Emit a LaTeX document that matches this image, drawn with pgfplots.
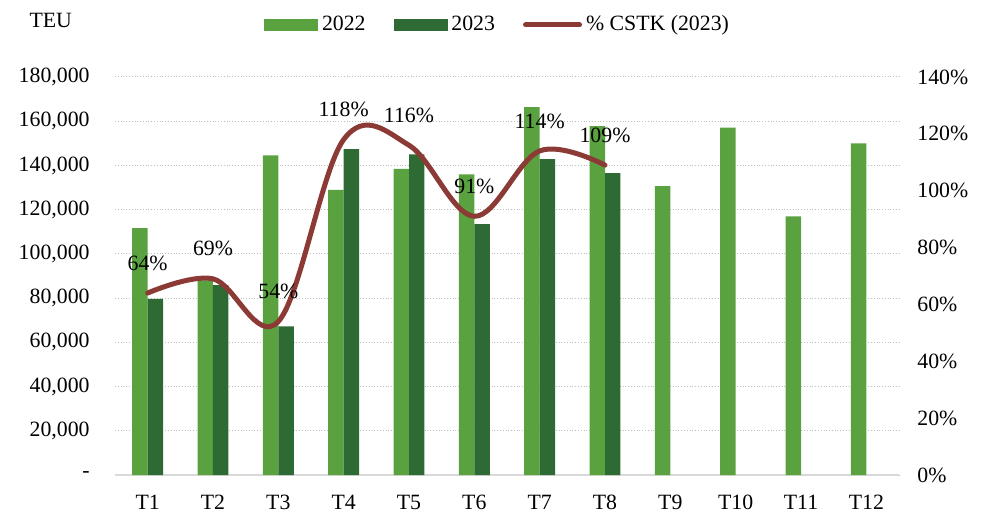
\documentclass[border=0pt]{standalone}
\usepackage{pgfplots}
\pgfplotsset{compat=1.18}
\usepackage{fontspec}
\setmainfont{Liberation Serif}
\definecolor{lg}{HTML}{5AA13F}
\definecolor{dg}{HTML}{2E6B34}
\definecolor{ln}{HTML}{8B3A35}
\pgfplotstableread{
x y22 y23
1 111700 79700
2 88000 85900
3 144600 67200
4 128900 147400
5 138400 145000
6 136000 113500
7 166400 142900
8 157800 136500
}\dataA
\pgfplotstableread{
x y22
9 130700
10 157100
11 117000
12 150000
}\dataB
\pgfplotstableread{
x p
1 64
2 69
3 54
4 118
5 116
6 91
7 114
8 109
}\dataC
\newcommand\ff{\fontsize{10.9bp}{13bp}\selectfont}
\begin{document}
\ff
\begin{tikzpicture}
\path[use as bounding box] (-57.5bp,-28.5bp) rectangle (442.5bp,237.5bp);
\begin{axis}[
  at={(0,0)}, anchor=south west,
  scale only axis, width=392bp, height=199bp,
  xmin=0.5, xmax=12.5, ymin=0, ymax=180000,
  xtick={1,...,12},
  xticklabels={T1,T2,T3,T4,T5,T6,T7,T8,T9,T10,T11,T12},
  ytick={0,20000,...,180000},
  scaled y ticks=false,
  yticklabels={{-\hspace{5bp}},{20,000},{40,000},{60,000},{80,000},{100,000},{120,000},{140,000},{160,000},{180,000}},
  major tick length=0pt,
  axis x line*=bottom, axis y line*=left,
  y axis line style={draw=none},
  x axis line style={draw=black!15, line width=1bp},
  ymajorgrids, grid style={densely dotted, black!25, line width=0.5bp},
  yticklabel style={inner sep=0pt, anchor=east, xshift=-12.5bp, font=\ff},
  xticklabel style={inner sep=0pt, anchor=north, yshift=-10bp, font=\ff},
  /pgf/number format/assume math mode=true,
  bar width=0.237,
  clip=false,
]
\addplot[ybar, fill=lg, draw=none, bar shift=-0.1185] table[x=x,y=y22] {\dataA};
\addplot[ybar, fill=lg, draw=none, bar shift=-0.1185] table[x=x,y=y22] {\dataB};
\addplot[ybar, fill=dg, draw=none, bar shift=0.1185] table[x=x,y=y23] {\dataA};
\node[font=\ff] at (rel axis cs:-0.082,1.143) {TEU};
\end{axis}
\begin{axis}[
  at={(0,0)}, anchor=south west,
  scale only axis, width=392bp, height=199bp,
  xmin=0.5, xmax=12.5, ymin=0, ymax=140,
  ytick={0,20,...,140},
  yticklabels={{0\%},{20\%},{40\%},{60\%},{80\%},{100\%},{120\%},{140\%}},
  major tick length=0pt,
  axis x line=none, axis y line*=right,
  y axis line style={draw=none},
  yticklabel style={inner sep=0pt, anchor=west, xshift=9bp, font=\ff},
  /pgf/number format/assume math mode=true,
  clip=false,
  legend columns=3,
  legend style={at={(0.488,1.131)}, anchor=center, draw=none, fill=none,
    font=\ff, inner sep=0pt, nodes={inner sep=1bp},
    /tikz/every odd column/.append style={column sep=1bp},
    /tikz/every even column/.append style={column sep=13bp}},
]
\addlegendimage{legend image code/.code={\fill[lg] (0bp,-2.75bp) rectangle (26.5bp,2.75bp);}}
\addlegendentry{2022}
\addlegendimage{legend image code/.code={\fill[dg] (0bp,-2.75bp) rectangle (26.5bp,2.75bp);}}
\addlegendentry{2023}
\addplot[color=ln, line width=2.5bp, smooth, tension=0.6, line cap=round,
  nodes near coords={\pgfmathprintnumber{\pgfplotspointmeta}\%}, point meta=y,
  every node near coord/.style={anchor=center, yshift=15bp, text=black, font=\ff},
  legend image code/.code={\draw[ln, line width=2.5bp, line cap=round] (0bp,0bp) -- (27bp,0bp);}
] table[x=x,y=p] {\dataC};
\addlegendentry{\% CSTK (2023)}
\end{axis}
\end{tikzpicture}
\end{document}
